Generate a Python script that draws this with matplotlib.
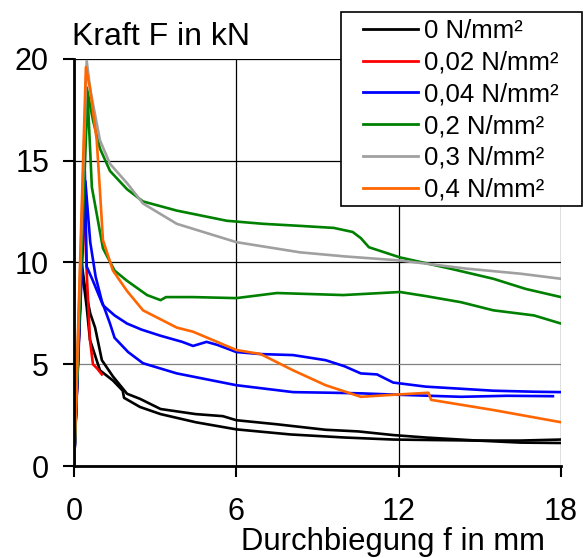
import matplotlib
matplotlib.use("Agg")
import matplotlib.pyplot as plt
from matplotlib.patches import Rectangle

plt.rcParams['font.family'] = ['Liberation Sans', 'DejaVu Sans']

# Data: deflection f (mm) vs force F (kN)
black_a_x = [0, 0.28, 0.4, 0.6, 0.78, 1.03, 1.44, 1.96, 2.44, 3.2, 4.5, 5.5, 6.0, 7.5, 9.3, 10.5, 11.8, 13.0, 14.9, 16.5, 18.0]
black_a_y = [0, 10.0, 8.8, 7.5, 6.8, 5.2, 4.4, 3.55, 3.3, 2.8, 2.55, 2.45, 2.25, 2.05, 1.78, 1.7, 1.52, 1.4, 1.25, 1.25, 1.3]
black_b_x = [0, 0.28, 0.47, 0.59, 0.96, 1.44, 1.8, 1.85, 2.44, 3.2, 4.5, 6.0, 8.0, 10.0, 11.8, 13.0, 14.9, 16.5, 18.0]
black_b_y = [0, 9.8, 7.8, 6.2, 4.7, 4.2, 3.7, 3.35, 2.9, 2.55, 2.15, 1.8, 1.55, 1.4, 1.3, 1.28, 1.25, 1.15, 1.13]

red_x = [0, 0.37, 0.47, 0.59, 0.7, 0.85, 1.03]
red_y = [0, 13.0, 9.5, 6.2, 5.0, 4.8, 4.5]

blue_a_x = [0, 0.4, 0.47, 0.7, 1.07, 1.5, 1.96, 2.5, 3.2, 4.0, 4.4, 4.9, 5.3, 6.0, 6.9, 8.1, 9.3, 10.0, 10.6, 11.2, 11.8, 13.0, 15.5, 17.0, 18.0]
blue_a_y = [0, 14.5, 9.8, 9.1, 7.9, 7.4, 7.0, 6.7, 6.4, 6.1, 5.9, 6.1, 5.95, 5.6, 5.5, 5.45, 5.2, 4.9, 4.55, 4.5, 4.1, 3.9, 3.7, 3.65, 3.63]
blue_b_x = [0, 0.42, 0.6, 0.8, 1.03, 1.33, 1.5, 2.0, 2.55, 3.8, 6.0, 8.1, 9.5, 10.6, 12.0, 14.3, 16.0, 17.7]
blue_b_y = [0, 14.0, 11.0, 9.3, 8.1, 7.0, 6.3, 5.6, 5.05, 4.55, 3.97, 3.63, 3.6, 3.57, 3.5, 3.4, 3.45, 3.43]

green_a_x = [0, 0.47, 0.7, 0.96, 1.33, 1.96, 2.55, 3.8, 5.65, 7.0, 8.35, 9.6, 10.3, 10.6, 10.9, 12.05, 13.9, 15.5, 16.7, 18.0]
green_a_y = [0, 18.6, 17.0, 15.6, 14.5, 13.6, 13.0, 12.55, 12.05, 11.9, 11.8, 11.7, 11.5, 11.2, 10.75, 10.25, 9.7, 9.2, 8.7, 8.3]
green_b_x = [0, 0.5, 0.66, 1.07, 1.5, 1.96, 2.7, 3.2, 3.4, 4.4, 6.0, 7.5, 9.95, 12.05, 13.0, 14.3, 15.5, 17.0, 18.0]
green_b_y = [0, 18.3, 13.7, 10.7, 9.6, 9.1, 8.4, 8.15, 8.3, 8.3, 8.25, 8.5, 8.4, 8.55, 8.35, 8.05, 7.65, 7.4, 7.0]

gray_x = [0, 0.47, 0.6, 0.96, 1.33, 1.96, 2.55, 3.8, 6.0, 8.35, 10.0, 12.05, 14.5, 16.5, 18.0]
gray_y = [0, 19.9, 18.5, 16.0, 14.85, 13.9, 12.9, 11.9, 11.0, 10.5, 10.3, 10.1, 9.7, 9.45, 9.2]

orange_x = [0, 0.44, 0.6, 0.84, 0.96, 1.07, 1.44, 1.96, 2.55, 3.8, 4.4, 6.0, 6.9, 8.1, 9.3, 10.6, 11.8, 13.1, 13.2, 15.5, 18.0]
orange_y = [0, 19.6, 18.5, 16.0, 13.5, 11.1, 9.6, 8.6, 7.65, 6.8, 6.6, 5.7, 5.5, 4.7, 3.97, 3.4, 3.5, 3.6, 3.25, 2.75, 2.15]

labels = ['0 N/mm²', '0,02 N/mm²', '0,04 N/mm²', '0,2 N/mm²', '0,3 N/mm²', '0,4 N/mm²']
colors = ['black', '#FF0000', '#0000FF', '#008000', '#A0A0A0', '#FF6600']

fig = plt.figure(figsize=(5.86, 5.58), dpi=100)
ax = fig.add_axes([74 / 586, 92 / 558, 487 / 586, 407 / 558])

lw = 1.9
groups = [
    [(black_a_x, black_a_y), (black_b_x, black_b_y)],
    [(red_x, red_y)],
    [(blue_a_x, blue_a_y), (blue_b_x, blue_b_y)],
    [(green_a_x, green_a_y), (green_b_x, green_b_y)],
    [(gray_x, gray_y)],
    [(orange_x, orange_y)],
]
handles = []
for curves, c, lab in zip(groups, colors, labels):
    for i, (xs, ys) in enumerate(curves):
        ln, = ax.plot(xs, ys, color=c, lw=lw, label=lab if i == 0 else None)
        if i == 0:
            handles.append(ln)

ax.set_xlim(0, 18)
ax.set_ylim(0, 20)
ax.set_xticks([0, 6, 12, 18])
ax.set_yticks([0, 5, 10, 15, 20])
ax.set_axisbelow(True)
ax.grid(True, color='black', lw=0.9)
ax.get_ygridlines()[1].set_color('#808080')

for s in ['top', 'right']:
    ax.spines[s].set_visible(False)
for s in ['left', 'bottom']:
    ax.spines[s].set_linewidth(2)
    ax.spines[s].set_color('black')

ax.tick_params(axis='both', direction='out', length=8, width=1.5, labelsize=22)
ax.tick_params(axis='x', pad=14)
ax.tick_params(axis='y', pad=10)

fig.text(72 / 586, 1 - 45 / 558, 'Kraft F in kN', fontsize=23, ha='left', va='baseline')
fig.text(545 / 586, 1 - 550 / 558, 'Durchbiegung f in mm', fontsize=22.3, ha='right', va='baseline')

# legend box
fig.add_artist(Rectangle((341 / 586, 1 - 206 / 558), 241 / 586, 194 / 558,
                         transform=fig.transFigure, facecolor='white',
                         edgecolor='black', lw=1.2, zorder=5))
leg = fig.legend(handles, labels, loc='upper left',
                 bbox_to_anchor=(363 / 586, 1 - 19 / 558), frameon=False,
                 fontsize=18.5, handlelength=2.14, handletextpad=0.22,
                 labelspacing=0.3, borderpad=0, borderaxespad=0)
leg.set_zorder(6)
for h in leg.legend_handles:
    h.set_linewidth(2)

fig.savefig('out.png', dpi=100)
